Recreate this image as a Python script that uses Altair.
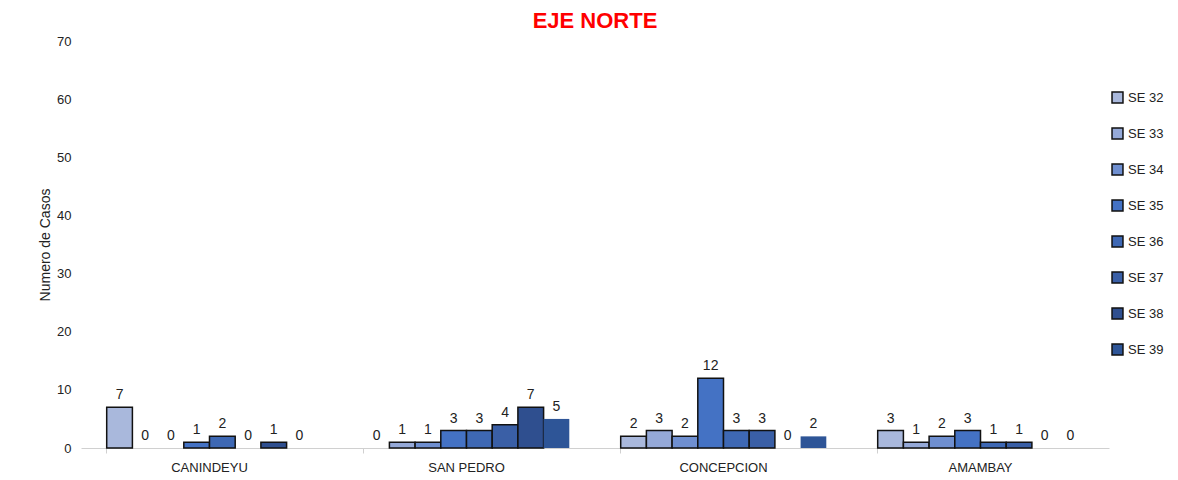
import altair as alt
import pandas as pd

departments = ["CANINDEYU", "SAN PEDRO", "CONCEPCION", "AMAMBAY"]
weeks = ["SE 32", "SE 33", "SE 34", "SE 35", "SE 36", "SE 37", "SE 38", "SE 39"]
colors = ["#a9b8dc", "#95a9d8", "#6f8fd0", "#4472c4", "#3e68b4", "#3a5fa6", "#2f4f8f", "#2e5597"]
cases = {
    "CANINDEYU": [7, 0, 0, 1, 2, 0, 1, 0],
    "SAN PEDRO": [0, 1, 1, 3, 3, 4, 7, 5],
    "CONCEPCION": [2, 3, 2, 12, 3, 3, 0, 2],
    "AMAMBAY": [3, 1, 2, 3, 1, 1, 0, 0],
}

rows = []
for d in departments:
    for w, v in zip(weeks, cases[d]):
        rows.append({"dept": d, "week": w, "value": v})
df = pd.DataFrame(rows)

x = alt.X("dept:N", sort=departments, title=None,
          scale=alt.Scale(paddingInner=0.2, paddingOuter=0.1),
          axis=alt.Axis(labelAngle=0, labelFontSize=13, labelColor="#222", labelPadding=8,
                        domainColor="#d0d0d0", tickColor="#d0d0d0", tickSize=5, ticks=True,
                        bandPosition=0))
xo = alt.XOffset("week:N", sort=weeks, scale=alt.Scale(paddingInner=0, paddingOuter=0))

bars = alt.Chart(df).mark_bar(stroke="#111", strokeWidth=1.5).encode(
    x=x,
    xOffset=xo,
    y=alt.Y("value:Q", title="Numero de Casos", scale=alt.Scale(domain=[0, 70]),
            axis=alt.Axis(values=list(range(0, 71, 10)), grid=False, domain=False, ticks=False,
                          labelFontSize=13, labelColor="#222", titleFontSize=14,
                          titleFontWeight="normal", titleColor="#222", labelPadding=10)),
    color=alt.Color("week:N", sort=weeks, scale=alt.Scale(domain=weeks, range=colors),
                    legend=alt.Legend(title=None, symbolType="square", symbolSize=120,
                                      symbolStrokeColor="#111", symbolStrokeWidth=1.5,
                                      labelFontSize=13, labelColor="#222", rowPadding=19,
                                      orient="none", legendX=1030, legendY=50, padding=0)),
    strokeOpacity=alt.condition((alt.datum.week == "SE 39") | (alt.datum.value == 0),
                                alt.value(0), alt.value(1)),
)

labels = alt.Chart(df).mark_text(dy=-12, fontSize=14, color="#222").encode(
    x=x, xOffset=xo, y="value:Q", text="value:Q"
)

chart = (bars + labels).properties(
    width=1028, height=407,
    title=alt.Title("EJE NORTE", color="#ff0000", fontSize=22, fontWeight="bold", offset=2),
    padding={"left": 30, "top": 2, "right": 0, "bottom": 5},
).configure_view(stroke=None)

chart.save("out.html", embed_options={"renderer": "svg", "actions": False})
